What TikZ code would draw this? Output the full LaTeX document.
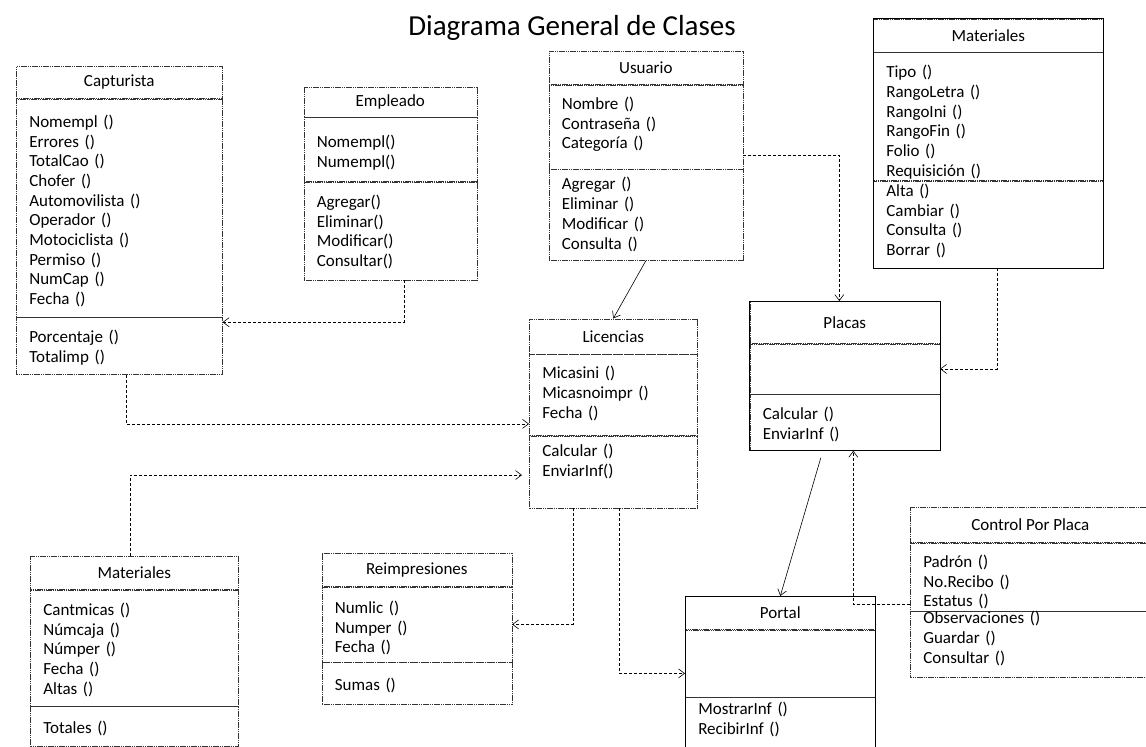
\documentclass[tikz,border=0pt]{standalone}
\usepackage{fontspec}
\setmainfont{Carlito}
\usetikzlibrary{positioning,arrows.meta}

\newcommand{\clsfont}{\fontsize{17}{19.7}\selectfont}
\newcommand{\celda}[3]{\parbox[t][#1][t]{\linewidth}{\vspace*{#2}#3}}

\tikzset{
  caja/.style={draw=black!80, line width=.6pt, dash pattern=on 1.6pt off .6pt,
    inner sep=0pt, anchor=north west, font=\clsfont},
  firme/.style={draw=black, line width=.9pt, solid},
  lista/.style={text width=#1, inner xsep=13pt, align=left},
  dep/.style={line width=.6pt, densely dashed, -{Straight Barb[length=6pt,width=9pt]}},
  asoc/.style={line width=.6pt, -{Straight Barb[length=6pt,width=9pt]}}
}

\begin{document}
\begin{tikzpicture}[x=1pt,y=-1pt]
  \useasboundingbox (0,0) rectangle (1146,747);
  \node[font=\fontsize{29}{34}\selectfont] (titulo) at (572,28) {Diagrama General de Clases};

  \node[caja, minimum width=206pt, minimum height=32pt] (capH) at (16,66) {Capturista};
  \node[caja, lista=180pt, below=0pt of capH] (capA) {\celda{218pt}{16pt}{Nomempl ()\\Errores ()\\TotalCao ()\\Chofer ()\\Automovilista ()\\Operador ()\\Motociclista ()\\Permiso ()\\NumCap ()\\Fecha ()}};
  \node[caja, lista=180pt, below=0pt of capA] (capM) {\celda{57pt}{13pt}{Porcentaje ()\\Totalimp ()}};

  \node[caja, minimum width=173pt, minimum height=30pt] (empH) at (303.5,86.5) {Empleado};
  \node[caja, lista=147pt, below=0pt of empH] (empA) {\celda{64pt}{18pt}{Nomempl()\\Numempl()}};
  \node[caja, lista=147pt, below=0pt of empA] (empM) {\celda{98pt}{13pt}{Agregar()\\Eliminar()\\Modificar()\\Consultar()}};

  \node[caja, minimum width=194pt, minimum height=33pt] (usuH) at (548.5,51) {Usuario};
  \node[caja, lista=168pt, below=0pt of usuH] (usuA) {\celda{84pt}{12pt}{Nombre ()\\Contraseña ()\\Categoría ()}};
  \node[caja, lista=168pt, below=0pt of usuA] (usuM) {\celda{91pt}{8pt}{Agregar ()\\Eliminar ()\\Modificar ()\\Consulta ()}};

  \node[caja, minimum width=230pt, minimum height=33pt] (matH) at (873,18.5) {Materiales};
  \node[caja, lista=204pt, below=0pt of matH] (matA) {\celda{128pt}{13pt}{Tipo ()\\RangoLetra ()\\RangoIni ()\\RangoFin ()\\Folio ()\\Requisición ()}};
  \node[caja, lista=204pt, below=0pt of matA] (matM) {\celda{87pt}{3pt}{Alta ()\\Cambiar ()\\Consulta ()\\Borrar ()}};
  \draw[firme] (matH.north west) rectangle (matM.south east);

  \node[caja, minimum width=168pt, minimum height=35pt] (licH) at (529,318.5) {Licencias};
  \node[caja, lista=142pt, below=0pt of licH] (licA) {\celda{81pt}{12pt}{Micasini ()\\Micasnoimpr ()\\Fecha ()}};
  \node[caja, lista=142pt, below=0pt of licA] (licM) {\celda{72pt}{8pt}{Calcular ()\\EnviarInf()}};

  \node[caja, minimum width=190pt, minimum height=42pt] (plaH) at (749.5,301) {Placas};
  \node[caja, minimum width=190pt, minimum height=50pt, below=0pt of plaH] (plaV) {};
  \node[caja, lista=164pt, below=0pt of plaV] (plaM) {\celda{56pt}{13pt}{Calcular ()\\EnviarInf ()}};
  \draw[firme] (plaH.north west) rectangle (plaM.south east);

  \node[caja, minimum width=208pt, minimum height=33pt] (mtbH) at (30,556) {Materiales};
  \node[caja, lista=182pt, below=0pt of mtbH] (mtbA) {\celda{116pt}{13pt}{Cantmicas ()\\Númcaja ()\\Númper ()\\Fecha ()\\Altas ()}};
  \node[caja, lista=182pt, below=0pt of mtbA] (mtbM) {\celda{40pt}{15pt}{Totales ()}};

  \node[caja, minimum width=190pt, minimum height=33pt] (reiH) at (321.5,553) {Reimpresiones};
  \node[caja, lista=164pt, below=0pt of reiH] (reiA) {\celda{75pt}{14pt}{Numlic ()\\Numper ()\\Fecha ()}};
  \node[caja, lista=164pt, below=0pt of reiA] (reiM) {\celda{42pt}{16pt}{Sumas ()}};

  \node[caja, minimum width=190pt, minimum height=33pt] (porH) at (685,596) {Portal};
  \node[caja, minimum width=190pt, minimum height=67pt, below=0pt of porH] (porV) {};
  \node[caja, lista=164pt, below=0pt of porV] (porM) {\celda{50pt}{5pt}{MostrarInf ()\\RecibirInf ()}};
  \draw[firme] (porH.north west) rectangle (porM.south east);

  \node[caja, minimum width=240pt, minimum height=35pt] (ctlH) at (910,507) {Control Por Placa};
  \node[caja, lista=214pt, below=0pt of ctlH] (ctlA) {\celda{68pt}{12pt}{Padrón ()\\No.Recibo ()\\Estatus ()}};
  \node[caja, lista=214pt, below=0pt of ctlA] (ctlM) {\celda{66pt}{0pt}{Observaciones ()\\Guardar ()\\Consultar ()}};

  \draw[dep] ([xshift=14pt]empM.south) |- ([yshift=-5pt]capM.north east);
  \draw[dep] ([xshift=7pt]capM.south) |- ([yshift=-29pt]licA.west);
  \draw[asoc] (usuM.south) -- (licH.north);
  \draw[dep] ([yshift=-28pt]usuA.east) -| ([xshift=-5.5pt]plaH.north);
  \draw[dep] ([xshift=9pt]matM.south) |- (plaV.east);
  \draw[dep, shorten >=7pt] ([xshift=-4pt]mtbH.north) |- ([yshift=-3pt]licM.west);
  \draw[dep] ([xshift=-40pt]licM.south) |- (reiA.east);
  \draw[dep] ([xshift=6pt]licM.south) |- ([yshift=-10pt]porV.west);
  \draw[asoc] ([xshift=-24pt,yshift=-7pt]plaM.south) -- (porH.north);
  \draw[dep] ([yshift=-27pt]ctlA.west) -| ([xshift=8.5pt]plaM.south);
\end{tikzpicture}
\end{document}
